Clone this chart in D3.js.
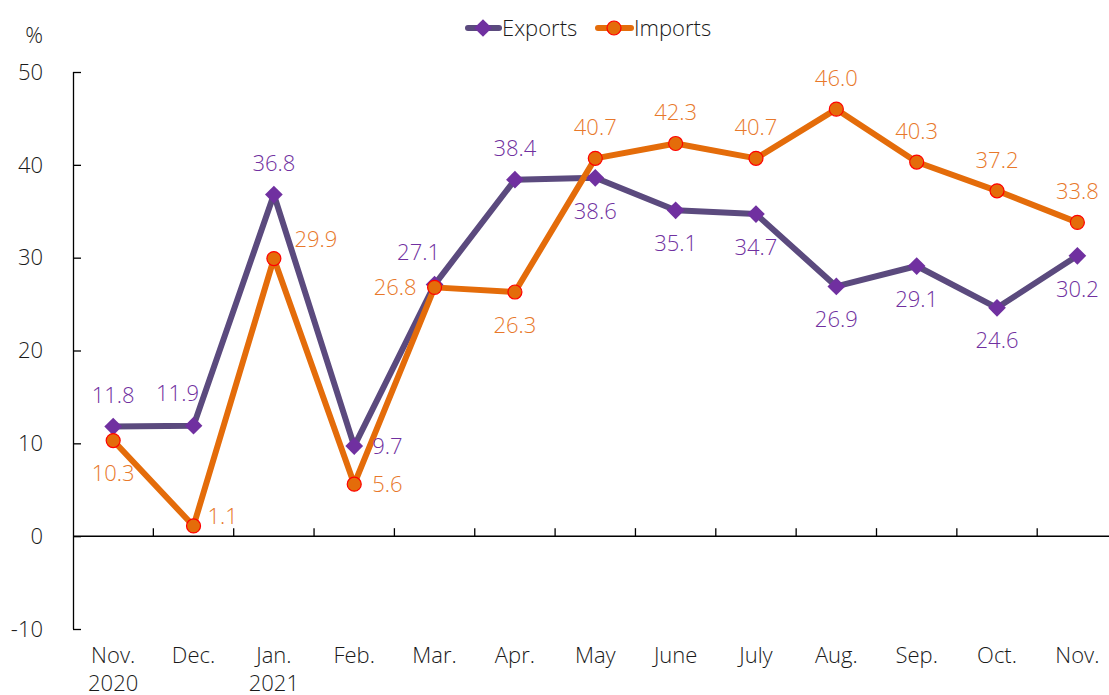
<!DOCTYPE html>
<html>
<head>
<meta charset="utf-8">
<script src="https://cdn.jsdelivr.net/npm/d3@7"></script>
<style>
  body { margin: 0; background: #fff; }
  svg text { font-family: "Open Sans", "Noto Sans", sans-serif; font-weight: 300; }
</style>
</head>
<body>
<div class="container"></div>
<script>
// monthly year-on-year growth, %
const months = ['Nov.|2020', 'Dec.', 'Jan.|2021', 'Feb.', 'Mar.', 'Apr.', 'May', 'June', 'July', 'Aug.', 'Sep.', 'Oct.', 'Nov.'];
const exportsPct = [11.8, 11.9, 36.8, 9.7, 27.1, 38.4, 38.6, 35.1, 34.7, 26.9, 29.1, 24.6, 30.2];
const importsPct = [10.3, 1.1, 29.9, 5.6, 26.8, 26.3, 40.7, 42.3, 40.7, 46.0, 40.3, 37.2, 33.8];
const yTicks = [-10, 0, 10, 20, 30, 40, 50];

// where each value label sits relative to its point
const exportsLabelPos = ['up', 'upleft', 'up', 'right', 'upleft', 'up', 'down', 'down', 'down', 'down', 'down', 'down', 'down'];
const importsLabelPos = ['down', 'rightup', 'upright', 'right', 'left', 'down', 'up', 'up', 'up', 'up', 'up', 'up', 'up'];

const width = 1109;
const height = 695;
const left = 73;
const step = 80.35;
const fs = 22;

const svg = d3.select('.container')
    .append('svg')
    .attr('width', width)
    .attr('height', height);

const x = d3.scaleBand().domain(d3.range(months.length)).range([left, left + step * months.length]);
const y = d3.scaleLinear().domain([-10, 50]).range([629, 72]);
const cx = i => x(i) + x.bandwidth() / 2;

// y axis
const yAxis = svg.append('g')
    .attr('transform', `translate(${left},0)`)
    .call(d3.axisRight(y).tickValues(yTicks).tickSize(8).tickFormat(''));
yAxis.select('.domain').attr('d', `M0.5,${y(-10)}V${y(50)}`).attr('stroke', '#000').attr('stroke-width', 1.3);
yAxis.selectAll('.tick line').attr('stroke', '#000').attr('stroke-width', 1.3);

svg.selectAll('.ylab')
    .data(yTicks)
    .enter()
    .append('text')
    .attr('class', 'ylab')
    .attr('x', 43)
    .attr('y', d => y(d))
    .attr('dy', '0.35em')
    .attr('text-anchor', 'end')
    .attr('font-size', fs)
    .attr('fill', '#1a1a1a')
    .text(d => d);

svg.append('text')
    .attr('x', 43).attr('y', 35).attr('dy', '0.35em')
    .attr('text-anchor', 'end').attr('font-size', fs).attr('fill', '#1a1a1a')
    .text('%');

// x axis at zero
const xAxis = svg.append('g')
    .attr('transform', `translate(0,${y(0)})`);
xAxis.append('line')
    .attr('x1', left).attr('x2', width)
    .attr('stroke', '#000').attr('stroke-width', 1.5);
xAxis.selectAll('.xtick')
    .data(d3.range(1, months.length))
    .enter()
    .append('line')
    .attr('x1', i => x(i)).attr('x2', i => x(i))
    .attr('y1', 0).attr('y2', -8)
    .attr('stroke', '#000').attr('stroke-width', 1.3);

const xl = svg.selectAll('.xlab')
    .data(months)
    .enter()
    .append('text')
    .attr('class', 'xlab')
    .attr('x', (d, i) => cx(i))
    .attr('y', 655)
    .attr('dy', '0.35em')
    .attr('text-anchor', 'middle')
    .attr('font-size', fs)
    .attr('fill', '#1a1a1a');
xl.each(function (d, i) {
    const parts = d.split('|');
    const t = d3.select(this);
    parts.forEach((p, k) => {
        t.append('tspan').attr('x', cx(i)).attr('dy', k === 0 ? '0.35em' : 28).text(p);
    });
});

const line = d3.line().x((d, i) => cx(i)).y(d => y(d));

const expColor = '#5b4a7e';
const expMarker = '#7030a0';
const impColor = '#e46c0a';

svg.append('path').datum(exportsPct)
    .attr('d', line).attr('fill', 'none')
    .attr('stroke', expColor).attr('stroke-width', 6).attr('stroke-linejoin', 'round');
svg.append('path').datum(importsPct)
    .attr('d', line).attr('fill', 'none')
    .attr('stroke', impColor).attr('stroke-width', 6).attr('stroke-linejoin', 'round');

const diamond = d3.symbol().type(d3.symbolDiamond2).size(200);
svg.selectAll('.exp')
    .data(exportsPct)
    .enter()
    .append('path')
    .attr('class', 'exp')
    .attr('d', diamond)
    .attr('transform', (d, i) => `translate(${cx(i)},${y(d)})`)
    .attr('fill', expMarker);

svg.selectAll('.imp')
    .data(importsPct)
    .enter()
    .append('circle')
    .attr('class', 'imp')
    .attr('cx', (d, i) => cx(i))
    .attr('cy', d => y(d))
    .attr('r', 7)
    .attr('fill', impColor)
    .attr('stroke', '#ff0000')
    .attr('stroke-width', 1.2);

const offsets = {
    up: [0, -31, 'middle'],
    down: [0, 33, 'middle'],
    left: [-18, 0, 'end'],
    right: [18, 0, 'start'],
    rightup: [14, -10, 'start'],
    upleft: [-16, -32, 'middle'],
    upright: [42, -19, 'middle']
};

function labels(values, pos, color, cls) {
    svg.selectAll('.' + cls)
        .data(values)
        .enter()
        .append('text')
        .attr('class', cls)
        .attr('x', (d, i) => cx(i) + offsets[pos[i]][0])
        .attr('y', (d, i) => y(d) + offsets[pos[i]][1])
        .attr('dy', '0.35em')
        .attr('text-anchor', (d, i) => offsets[pos[i]][2])
        .attr('font-size', fs)
        .attr('fill', color)
        .text(d => d.toFixed(1));
}
labels(exportsPct, exportsLabelPos, '#7030a0', 'elab');
labels(importsPct, importsLabelPos, '#e8782a', 'ilab');

// legend
const lg = svg.append('g').attr('transform', 'translate(0,28)');
lg.append('line').attr('x1', 468).attr('x2', 499).attr('stroke', expColor).attr('stroke-width', 6).attr('stroke-linecap', 'round');
lg.append('path').attr('d', diamond).attr('transform', 'translate(483,0)').attr('fill', expMarker);
lg.append('text').attr('x', 502).attr('dy', '0.35em').attr('font-size', fs).attr('fill', '#1a1a1a').text('Exports');
lg.append('line').attr('x1', 598).attr('x2', 631).attr('stroke', impColor).attr('stroke-width', 6).attr('stroke-linecap', 'round');
lg.append('circle').attr('cx', 614).attr('r', 7).attr('fill', impColor).attr('stroke', '#ff0000').attr('stroke-width', 1.2);
lg.append('text').attr('x', 634).attr('dy', '0.35em').attr('font-size', fs).attr('fill', '#1a1a1a').text('Imports');
</script>
</body>
</html>
